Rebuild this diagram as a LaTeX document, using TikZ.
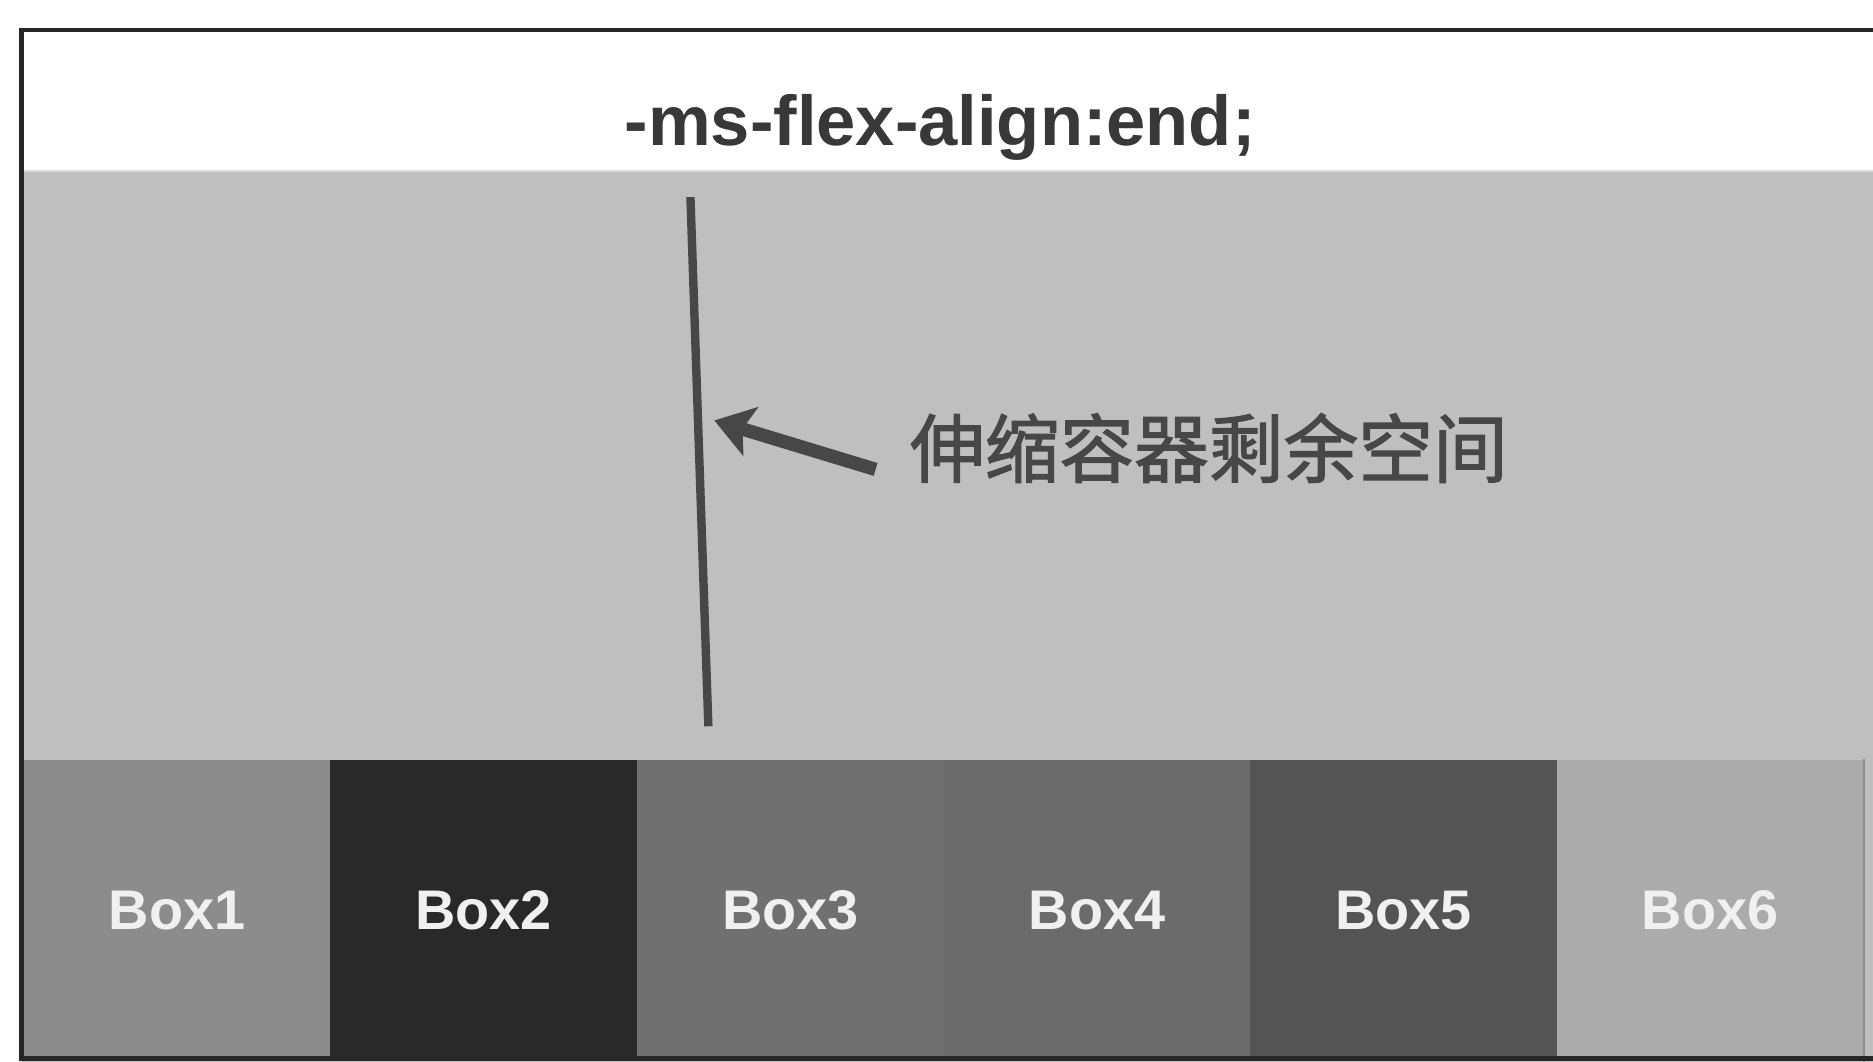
\documentclass[tikz,border=0pt]{standalone}
\usepackage{fontspec}
\setmainfont{Liberation Sans}
\newfontfamily\cjk[FakeBold=1.6]{Noto Sans CJK SC}
\usetikzlibrary{arrows.meta}

\begin{document}
\begin{tikzpicture}[
        boxcell/.style={minimum width=2.567cm,minimum height=2.52cm,inner sep=0pt,
            text=white!94!black,font=\bfseries\fontsize{13.3}{15}\selectfont},
        frameline/.style={line width=1.1pt,black!85}
    ]
        \useasboundingbox (0,0) rectangle (15.68,8.89);
        \fill[white] (0,0) rectangle (15.68,8.89);
        % container area
        \fill[black!25] (0.18,0) rectangle (15.68,7.46);
        \draw[black!15,line width=0.6pt] (0.18,7.46) -- (15.68,7.46);
        % flex items
        \foreach \i/\tone in {1/45, 2/84, 3/56, 4/58, 5/67, 6/33} {
            \node[boxcell,fill=black!\tone] (box\i) at ({0.2+(\i-0.5)*2.5667},1.27) {Box\i};
        }
        \draw[black!45,line width=0.5pt] (box6.north east) -- (box6.south east);
        % outer frame
        \draw[frameline] (15.68,8.64) -- (0.18,8.64) -- (0.18,0.03) -- (15.68,0.03);
        \node[text=black!78,font=\bfseries\fontsize{16.8}{18}\selectfont] (title) at (7.87,7.82) {-ms-flex-align:end;};
        % remaining space
        \coordinate (gapTop) at (5.78,7.24);
        \coordinate (gapBot) at (5.93,2.81);
        \draw[black!72,line width=2pt] (gapTop) -- (gapBot);
        \node[text=black!72,font=\cjk\fontsize{17.8}{20}\selectfont] (space) at (10.12,5.14) {伸缩容器剩余空间};
        \coordinate (tail) at (7.33,4.96);
        \coordinate (tip) at (5.98,5.37);
        \draw[black!72,line width=3.2pt,-{Stealth[length=9pt,width=12pt,inset=2pt]}] (tail) -- (tip);
    \end{tikzpicture}
\end{document}
